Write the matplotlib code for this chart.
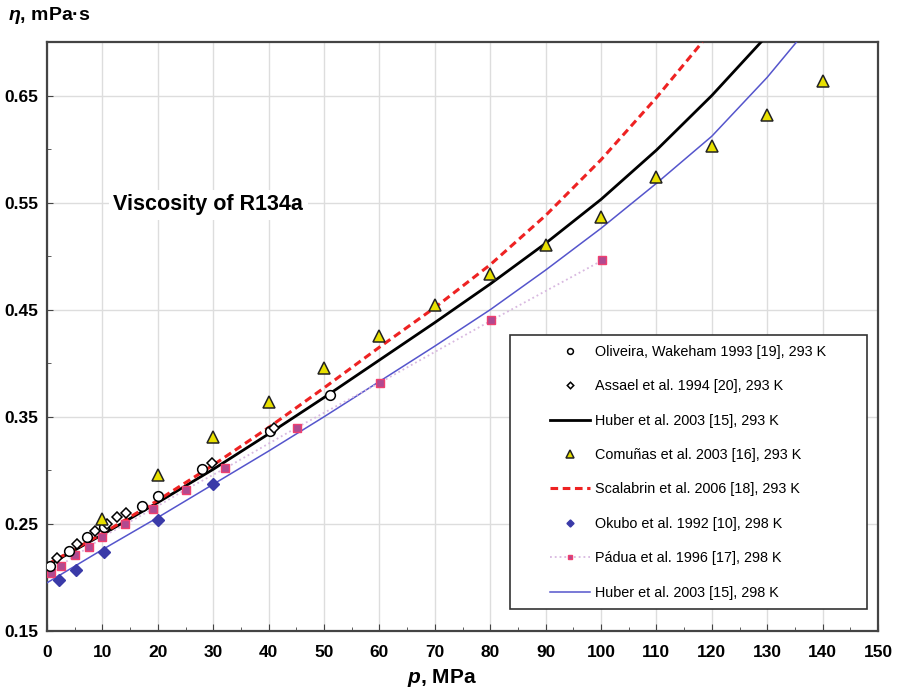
import numpy as np
import matplotlib
matplotlib.use("Agg")
import matplotlib.pyplot as plt
from matplotlib.patches import Rectangle
from matplotlib.ticker import MultipleLocator

plt.rcParams['font.family'] = ['Liberation Sans', 'DejaVu Sans']
plt.rcParams['mathtext.fontset'] = 'custom'
plt.rcParams['mathtext.it'] = 'Liberation Sans:italic:bold'
plt.rcParams['mathtext.bf'] = 'Liberation Sans:bold'

# Oliveira, Wakeham 1993, 293 K
oliv_p = [0.5, 3.9, 7.3, 10.2, 17.1, 20.1, 28.0, 40.2, 51.0]
oliv_eta = [0.211, 0.225, 0.238, 0.247, 0.267, 0.2765, 0.301, 0.337, 0.370]

# Assael et al. 1994, 293 K
assa_p = [1.75, 5.5, 8.7, 10.8, 12.7, 14.3, 29.8, 41.0]
assa_eta = [0.2186, 0.2316, 0.243, 0.2495, 0.2563, 0.260, 0.3066, 0.340]

# Huber et al. 2003, 293 K
hub293_p = [0, 10, 20, 30, 40, 50, 60, 70, 80, 90, 100, 110, 120, 128.9]
hub293_eta = [0.211, 0.240, 0.270, 0.301, 0.334, 0.368, 0.403, 0.438,
              0.474, 0.512, 0.553, 0.599, 0.650, 0.700]

# Comunas et al. 2003, 293 K
comu_p = [10, 20, 30, 40, 50, 60, 70, 80, 90, 100, 110, 120, 130, 140]
comu_eta = [0.255, 0.296, 0.331, 0.364, 0.396, 0.425, 0.454, 0.483,
            0.510, 0.537, 0.574, 0.603, 0.632, 0.664]

# Scalabrin et al. 2006, 293 K
scal_p = [0, 10, 20, 30, 40, 50, 60, 70, 80, 90, 100, 110, 118.3]
scal_eta = [0.212, 0.241, 0.272, 0.305, 0.340, 0.377, 0.415, 0.452,
            0.492, 0.538, 0.590, 0.648, 0.700]

# Okubo et al. 1992, 298 K
okub_p = [2.2, 5.2, 10.3, 20.0, 30.0]
okub_eta = [0.198, 0.207, 0.224, 0.254, 0.287]

# Padua et al. 1996, 298 K
padu_p = [0.7, 2.5, 5.1, 7.6, 10.0, 14.1, 19.1, 25.0, 32.2, 45.1, 60.1, 80.2, 100.2]
padu_eta = [0.204, 0.211, 0.221, 0.228, 0.238, 0.2495, 0.264, 0.282,
            0.302, 0.340, 0.382, 0.440, 0.496]

# Huber et al. 2003, 298 K
hub298_p = [0, 10, 20, 30, 40, 50, 60, 70, 80, 90, 100, 110, 120, 130, 135.3]
hub298_eta = [0.195, 0.226, 0.256, 0.287, 0.318, 0.350, 0.383, 0.416,
              0.450, 0.487, 0.526, 0.568, 0.612, 0.667, 0.700]

fig = plt.figure(figsize=(8.97, 6.94), dpi=100)
ax = fig.add_axes([47/897, 1-631/694, (878-47)/897, (631-42)/694])

ax.plot(oliv_p, oliv_eta, 'o', ms=7, mfc='white', mec='black', mew=1.1,
        label='Oliveira, Wakeham 1993 [19], 293 K', zorder=5)
ax.plot(assa_p, assa_eta, 'D', ms=5.5, mfc='white', mec='black', mew=1.1,
        label='Assael et al. 1994 [20], 293 K', zorder=5)
ax.plot(hub293_p, hub293_eta, '-', color='black', lw=2,
        label='Huber et al. 2003 [15], 293 K', zorder=3)
ax.plot(comu_p, comu_eta, '^', ms=9, mfc='#e8e000', mec='#222222', mew=1.1,
        label='Comuñas et al. 2003 [16], 293 K', zorder=5)
ax.plot(scal_p, scal_eta, '--', color='#ee2222', lw=2.2, dashes=(2.5, 1.5),
        label='Scalabrin et al. 2006 [18], 293 K', zorder=3)
ax.plot(okub_p, okub_eta, 'D', ms=6, mfc='#3a3aa8', mec='#3a3aa8',
        label='Okubo et al. 1992 [10], 298 K', zorder=5)
ax.plot(padu_p, padu_eta, ':', color='#d8b8e0', lw=1.3, marker='s', ms=6,
        mfc='#b04a90', mec='#f04070', mew=1.0,
        label='Pádua et al. 1996 [17], 298 K', zorder=4)
ax.plot(hub298_p, hub298_eta, '-', color='#5555cc', lw=1.1,
        label='Huber et al. 2003 [15], 298 K', zorder=3)

ax.set_xlim(0, 150)
ax.set_ylim(0.15, 0.70)
ax.set_xticks(np.arange(0, 151, 10))
ax.xaxis.set_minor_locator(MultipleLocator(5))
ax.set_yticks([0.15, 0.25, 0.35, 0.45, 0.55, 0.65])
ax.set_yticklabels(['0.15', '0.25', '0.35', '0.45', '0.55', '0.65'])
ax.yaxis.set_minor_locator(MultipleLocator(0.05))
ax.grid(True, which='major', color='#dddddd', lw=1)
ax.set_axisbelow(True)
for lab in ax.get_xticklabels() + ax.get_yticklabels():
    lab.set_fontweight('bold')
    lab.set_fontsize(12.5)
ax.tick_params(axis='x', which='major', direction='in', length=5, color='#444444', pad=10)
ax.tick_params(axis='x', which='minor', direction='in', length=3, color='#444444')
ax.tick_params(axis='y', which='major', direction='in', length=4, color='#444444', pad=6.5)
ax.tick_params(axis='y', which='minor', direction='in', length=3, color='#444444')
ax.tick_params(top=False, right=False)
for s in ['left', 'bottom', 'top', 'right']:
    ax.spines[s].set_color('#444444')
    ax.spines[s].set_linewidth(1.6)

fig.text(8/897, 1-15/694, r'$\mathit{\eta}$, mPa·s', fontsize=14, fontweight='bold',
         va='center', ha='left')
fig.text(442/897, 1-678/694, r'$\mathit{p}$, MPa', fontsize=15, fontweight='bold',
         va='center', ha='center')

ax.text(12, 0.548, 'Viscosity of R134a', fontsize=15.5, fontweight='bold',
        va='center', ha='left',
        bbox=dict(boxstyle='square,pad=0.2', fc='white', ec='none'))

# legend box drawn separately so the entries can sit further in
box = Rectangle((510/897, 1-609/694), (867-510)/897, (609-335)/694,
                transform=fig.transFigure, fc='white', ec='#333333', lw=1.2,
                clip_on=False, zorder=6)
ax.add_patch(box)
leg = ax.legend(loc='upper left', bbox_to_anchor=(550/897, 1-345/694),
                bbox_transform=fig.transFigure, fontsize=10.4, frameon=False,
                borderpad=0, borderaxespad=0, labelspacing=1.41,
                handlelength=2.75, handletextpad=0.35, markerscale=0.6)
leg.set_zorder(7)

fig.savefig('out.png', dpi=100)
